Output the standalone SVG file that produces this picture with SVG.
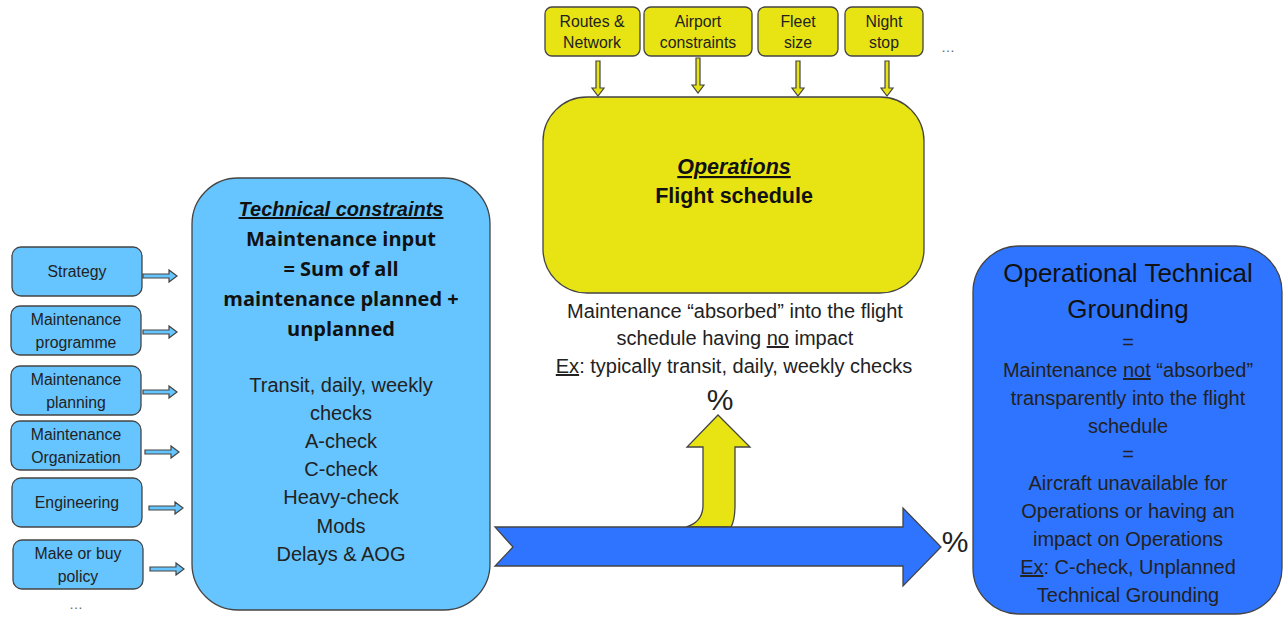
<svg xmlns="http://www.w3.org/2000/svg" width="1283" height="617" viewBox="0 0 1283 617">
<style>
text{font-family:"Liberation Sans",Arial,sans-serif;fill:#222;text-anchor:middle}
.sm{font-size:15.8px}
.lb{fill:#66C5FF;stroke:#444;stroke-width:1.3}
.yl{fill:#E8E414;stroke:#444;stroke-width:1.3}
.bl{fill:#2F74FF;stroke:#444;stroke-width:1.3}
.ar{stroke:#444;stroke-width:1.2}
.m{font-size:20px}
.b{font-family:"Open Sans","Liberation Sans",sans-serif;font-weight:bold;font-size:20px;fill:#111}
</style>
<rect width="1283" height="617" fill="#fff"/>
<g id="connectors">
<g class="ar" fill="#66C5FF">
<polygon points="143,274 169,274 169,270 177,276 169,282 169,278 143,278"/>
<polygon points="143,330 169,330 169,326 177,332 169,338 169,334 143,334"/>
<polygon points="143,390 169,390 169,386 177,392 169,398 169,394 143,394"/>
<polygon points="145,450 171,450 171,446 179,452 171,458 171,454 145,454"/>
<polygon points="149,506 175,506 175,502 183,508 175,514 175,510 149,510"/>
<polygon points="150,567 176,567 176,563 184,569 176,575 176,571 150,571"/>
</g>
<g class="ar" fill="#E8E414">
<polygon points="596,61 600,61 600,88 604,88 598,96 592,88 596,88"/>
<polygon points="696,58 700,58 700,85 704,85 698,93 692,85 696,85"/>
<polygon points="796,61 800,61 800,88 804,88 798,96 792,88 796,88"/>
<polygon points="885,61 889,61 889,88 893,88 887,96 881,88 885,88"/>
</g>
<path class="yl" d="M686,527 Q703,522 703,505 L703,447 L687,447 L718,415 L750,447 L735,447 L735,505 Q735,520 731,527 Z"/>
<polygon class="bl" points="495,527 903,527 903,508 941,547 903,586 903,566 495,566 513,547"/>
</g>
<g id="n-strategy"><rect class="lb" x="12" y="247" width="130" height="49" rx="9"/><text class="sm" x="77" y="277">Strategy</text></g>
<g id="n-mprog"><rect class="lb" x="11" y="306" width="130" height="49" rx="9"/><text class="sm" x="76" y="325">Maintenance</text><text class="sm" x="76" y="348">programme</text></g>
<g id="n-mplan"><rect class="lb" x="11" y="366" width="130" height="49" rx="9"/><text class="sm" x="76" y="385">Maintenance</text><text class="sm" x="76" y="408">planning</text></g>
<g id="n-morg"><rect class="lb" x="11" y="421" width="130" height="49" rx="9"/><text class="sm" x="76" y="440">Maintenance</text><text class="sm" x="76" y="463">Organization</text></g>
<g id="n-eng"><rect class="lb" x="12" y="478" width="130" height="49" rx="9"/><text class="sm" x="77" y="508">Engineering</text></g>
<g id="n-make"><rect class="lb" x="13" y="540" width="130" height="49" rx="9"/><text class="sm" x="78" y="559">Make or buy</text><text class="sm" x="78" y="582">policy</text></g>
<text x="76" y="609" style="font-size:14px;fill:#666">…</text>
<g id="n-tech"><rect class="lb" x="192" y="178" width="298" height="432" rx="46"/>
<text x="341" y="216" style="font-size:20px;font-weight:bold;font-style:italic;text-decoration:underline;fill:#111">Technical constraints</text>
<text class="b" x="341" y="246">Maintenance input</text>
<text class="b" x="341" y="276">= Sum of all</text>
<text class="b" x="341" y="306">maintenance planned +</text>
<text class="b" x="341" y="336">unplanned</text>
<text class="m" x="341" y="392">Transit, daily, weekly</text>
<text class="m" x="341" y="420">checks</text>
<text class="m" x="341" y="448">A-check</text>
<text class="m" x="341" y="476">C-check</text>
<text class="m" x="341" y="504">Heavy-check</text>
<text class="m" x="341" y="533">Mods</text>
<text class="m" x="341" y="561">Delays &amp; AOG</text>
</g>
<g id="n-routes"><rect class="yl" x="545" y="7" width="95" height="49" rx="7"/><text class="sm" x="592" y="27">Routes &amp;</text><text class="sm" x="592" y="48">Network</text></g>
<g id="n-airport"><rect class="yl" x="644" y="7" width="108" height="49" rx="7"/><text class="sm" x="698" y="27">Airport</text><text class="sm" x="698" y="48">constraints</text></g>
<g id="n-fleet"><rect class="yl" x="758" y="7" width="80" height="49" rx="7"/><text class="sm" x="798" y="27">Fleet</text><text class="sm" x="798" y="48">size</text></g>
<g id="n-night"><rect class="yl" x="845" y="7" width="78" height="49" rx="7"/><text class="sm" x="884" y="27">Night</text><text class="sm" x="884" y="48">stop</text></g>
<text x="948" y="52" style="font-size:14px;fill:#666">…</text>
<g id="n-ops"><rect class="yl" x="543" y="97" width="381" height="196" rx="44"/>
<text x="734" y="174" style="font-size:21.5px;font-weight:bold;font-style:italic;text-decoration:underline;fill:#111">Operations</text>
<text x="734" y="203" style="font-size:21.5px;font-weight:bold;fill:#111">Flight schedule</text>
</g>
<g id="t-absorbed">
<text class="m" x="735" y="318">Maintenance “absorbed” into the flight</text>
<text class="m" x="735" y="345">schedule having <tspan text-decoration="underline">no</tspan> impact</text>
<text class="m" x="734" y="373"><tspan text-decoration="underline">Ex</tspan>: typically transit, daily, weekly checks</text>
</g>
<text x="720" y="410" style="font-size:30px">%</text>
<text x="955" y="552" style="font-size:30px">%</text>
<g id="n-otg"><rect class="bl" x="973" y="246" width="309" height="368" rx="46"/>
<text x="1128" y="282" style="font-size:26px;fill:#111">Operational Technical</text>
<text x="1128" y="318" style="font-size:26px;fill:#111">Grounding</text>
<text class="m" x="1128" y="349">=</text>
<text class="m" x="1128" y="377">Maintenance <tspan text-decoration="underline">not</tspan> “absorbed”</text>
<text class="m" x="1128" y="405">transparently into the flight</text>
<text class="m" x="1128" y="433">schedule</text>
<text class="m" x="1128" y="461">=</text>
<text class="m" x="1128" y="490">Aircraft unavailable for</text>
<text class="m" x="1128" y="518">Operations or having an</text>
<text class="m" x="1128" y="546">impact on Operations</text>
<text class="m" x="1128" y="574"><tspan text-decoration="underline">Ex</tspan>: C-check, Unplanned</text>
<text class="m" x="1128" y="602">Technical Grounding</text>
</g>
</svg>
